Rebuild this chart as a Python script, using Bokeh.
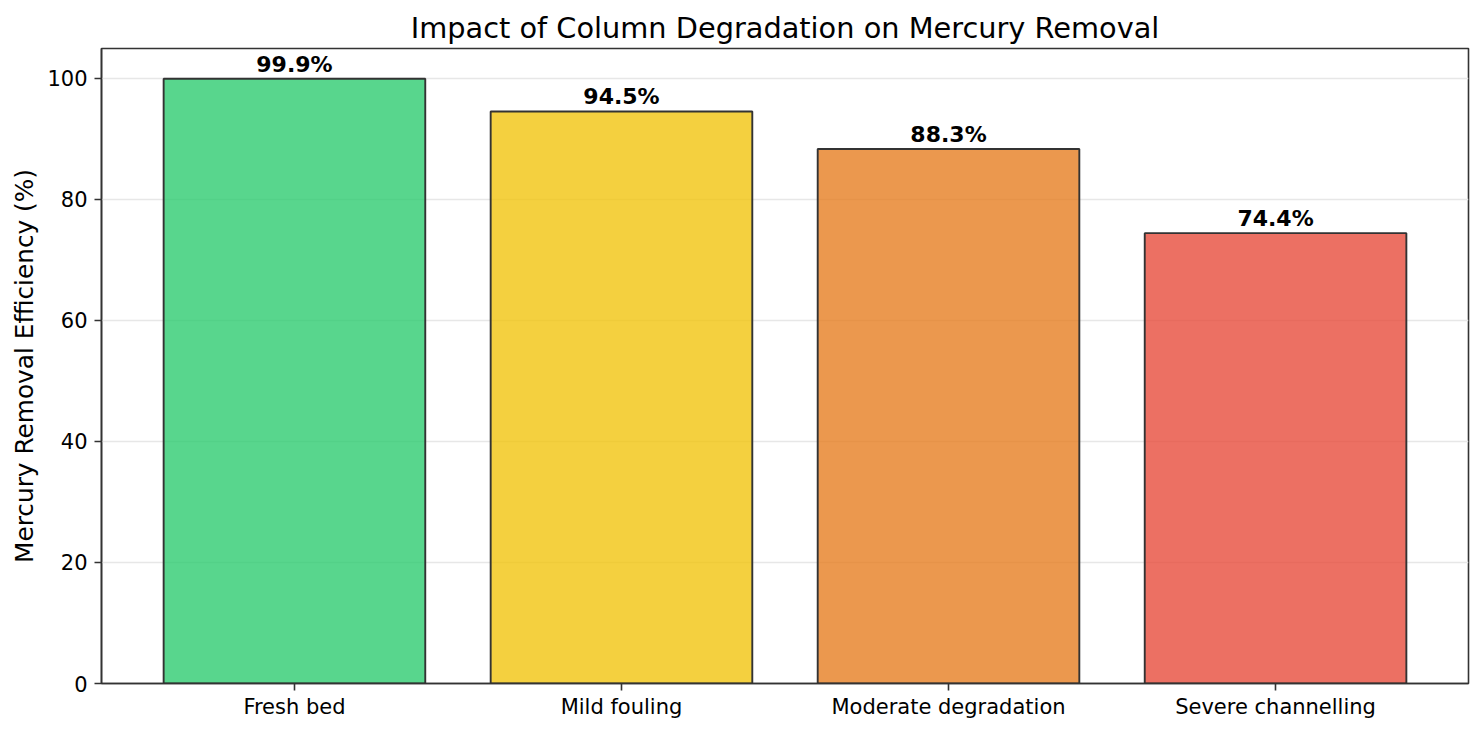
from bokeh.plotting import figure
from bokeh.models import ColumnDataSource, Range1d, FixedTicker, FactorRange
from bokeh.core.properties import value
from bokeh.embed import file_html
from bokeh.resources import INLINE

categories = ["Fresh bed", "Mild fouling", "Moderate degradation", "Severe channelling"]
efficiency = [99.9, 94.5, 88.3, 74.4]
bar_colors = ["#2ecc71", "#f1c40f", "#e67e22", "#e74c3c"]
y_ticks = [0, 20, 40, 60, 80, 100]

FONT = "DejaVu Sans"

src = ColumnDataSource(dict(
    cat=categories,
    val=efficiency,
    color=bar_colors,
    label=[f"{v:.1f}%" for v in efficiency],
))

p = figure(
    width=1483, height=734,
    x_range=FactorRange(factors=categories, range_padding=0.09, range_padding_units="absolute"),
    y_range=Range1d(0, 104.9),
    output_backend="svg", toolbar_location=None,
    title="Impact of Column Degradation on Mercury Removal",
    min_border_left=101, min_border_right=15, min_border_top=48, min_border_bottom=51,
)

p.vbar(x="cat", top="val", width=0.8, source=src, fill_color="color", fill_alpha=0.8,
       line_color="#333333", line_width=1.9)

p.text(x="cat", y="val", text="label", source=src, text_align="center",
       text_baseline="bottom", y_offset=-2, text_font=value(FONT), text_font_style="bold",
       text_font_size="22px", text_color="black")

p.title.text_font = FONT
p.title.text_font_size = "28.8px"
p.title.text_font_style = "normal"
p.title.align = "center"
p.title.text_color = "black"
p.title.standoff = 8

p.outline_line_color = "#333333"
p.outline_line_width = 1.6

p.xgrid.grid_line_color = None
p.ygrid.grid_line_color = "#e7e7e7"
p.ygrid.grid_line_width = 1.5

p.yaxis.ticker = FixedTicker(ticks=y_ticks)
p.yaxis.axis_label = "Mercury Removal Efficiency (%)"
p.yaxis.axis_label_text_font = FONT
p.yaxis.axis_label_text_font_size = "24.8px"
p.yaxis.axis_label_text_font_style = "normal"
p.yaxis.axis_label_text_color = "black"
p.yaxis.axis_label_standoff = 5

for ax in (p.xaxis[0], p.yaxis[0]):
    ax.major_label_text_font = FONT
    ax.major_label_text_font_size = "21px"
    ax.major_label_text_color = "black"
    ax.axis_line_color = "#333333"
    ax.axis_line_width = 1.6
    ax.major_tick_line_color = "#333333"
    ax.major_tick_line_width = 1.6
    ax.major_tick_out = 7
    ax.major_tick_in = 0
    ax.minor_tick_line_color = None

p.yaxis.major_label_standoff = 7
p.xaxis.major_label_standoff = 4

open("out.html", "w").write(file_html(p, INLINE))
